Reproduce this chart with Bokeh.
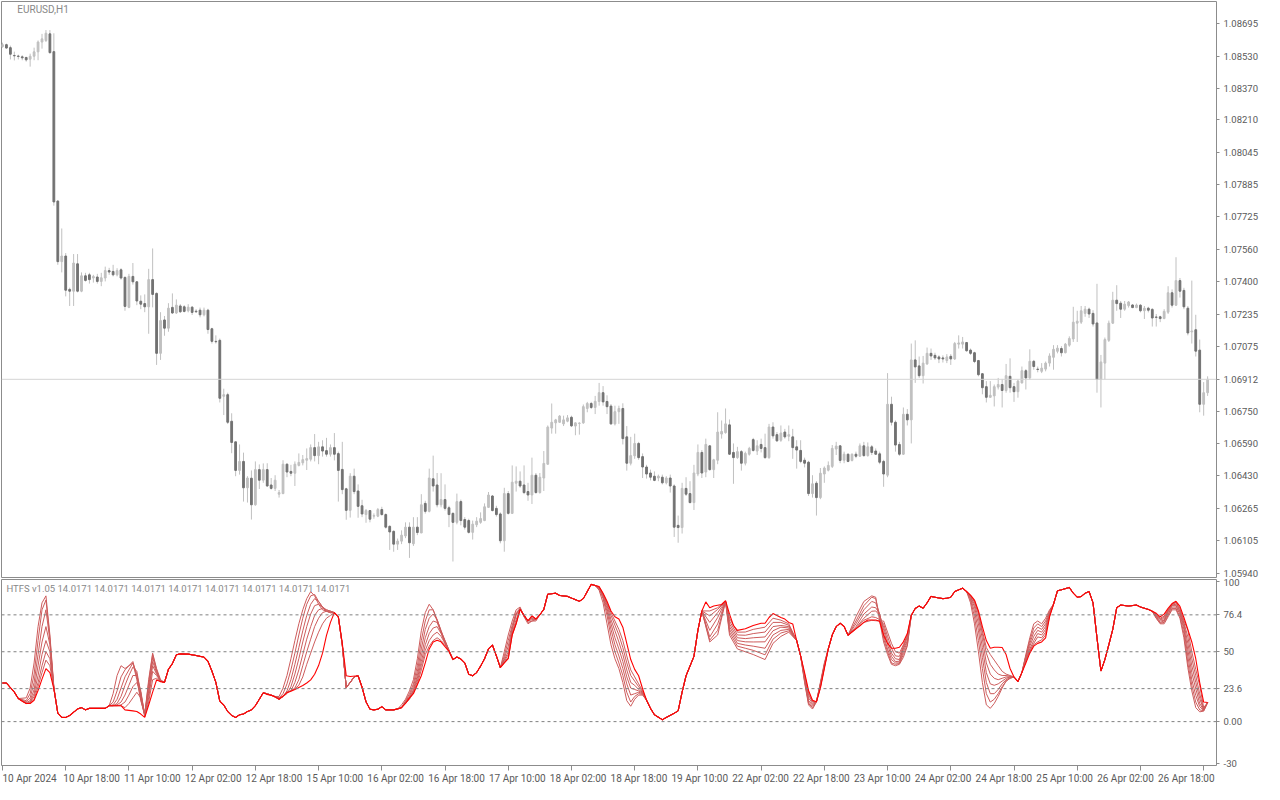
from bokeh.plotting import figure
from bokeh.layouts import column
from bokeh.models import FixedTicker, Range1d, Span, Label, ColumnDataSource, PrintfTickFormatter
from bokeh.core.properties import value
from bokeh.embed import file_html
from bokeh.resources import INLINE

# ---------------- EURUSD H1 candles (bar index 0 = 10 Apr 2024 02:00) ----------------
OPEN = [1.08577,1.08587,1.08572,1.08533,1.08530,1.08526,1.08523,1.08514,1.08529,1.08551,
1.08600,1.08608,1.08641,1.08552,1.07804,1.07501,1.07529,1.07362,1.07353,1.07490,
1.07353,1.07430,1.07435,1.07419,1.07424,1.07402,1.07419,1.07456,1.07452,1.07435,
1.07460,1.07422,1.07272,1.07427,1.07400,1.07303,1.07291,1.07275,1.07411,1.07342,
1.07042,1.07209,1.07168,1.07272,1.07244,1.07279,1.07275,1.07255,1.07273,1.07253,
1.07258,1.07235,1.07258,1.07165,1.07102,1.07107,1.06827,1.06835,1.06702,1.06599,
1.06456,1.06501,1.06369,1.06417,1.06284,1.06460,1.06407,1.06460,1.06383,1.06366,
1.06337,1.06340,1.06487,1.06451,1.06442,1.06481,1.06494,1.06507,1.06512,1.06570,
1.06530,1.06574,1.06555,1.06537,1.06570,1.06540,1.06461,1.06364,1.06256,1.06427,
1.06353,1.06279,1.06235,1.06255,1.06227,1.06227,1.06260,1.06235,1.06176,1.06151,
1.06087,1.06102,1.06128,1.06172,1.06089,1.06172,1.06143,1.06291,1.06251,1.06414,
1.06383,1.06284,1.06310,1.06269,1.06241,1.06196,1.06300,1.06210,1.06205,1.06146,
1.06184,1.06196,1.06205,1.06271,1.06328,1.06266,1.06238,1.06104,1.06340,1.06241,
1.06392,1.06402,1.06383,1.06350,1.06333,1.06432,1.06345,1.06418,1.06487,1.06668,
1.06694,1.06697,1.06689,1.06702,1.06722,1.06678,1.06691,1.06694,1.06766,1.06791,
1.06771,1.06801,1.06845,1.06801,1.06778,1.06689,1.06750,1.06766,1.06624,1.06492,
1.06529,1.06591,1.06525,1.06473,1.06443,1.06427,1.06418,1.06422,1.06394,1.06418,
1.06378,1.06181,1.06170,1.06366,1.06340,1.06295,1.06438,1.06546,1.06448,1.06579,
1.06460,1.06507,1.06638,1.06645,1.06684,1.06546,1.06520,1.06550,1.06492,1.06537,
1.06610,1.06553,1.06586,1.06570,1.06520,1.06673,1.06635,1.06607,1.06648,1.06627,
1.06624,1.06574,1.06556,1.06507,1.06497,1.06340,1.06392,1.06320,1.06438,1.06457,
1.06476,1.06563,1.06579,1.06507,1.06537,1.06506,1.06537,1.06527,1.06579,1.06530,
1.06574,1.06553,1.06539,1.06501,1.06432,1.06787,1.06697,1.06586,1.06537,1.06737,
1.06709,1.07009,1.06979,1.06930,1.06989,1.07042,1.07032,1.07024,1.07019,1.07006,
1.07027,1.07014,1.07088,1.07088,1.07096,1.07058,1.07045,1.07006,1.06940,1.06875,
1.06822,1.06829,1.06873,1.06886,1.06856,1.06927,1.06875,1.06850,1.06894,1.06955,
1.06919,1.07002,1.06963,1.06952,1.06963,1.06993,1.07022,1.07052,1.07066,1.07045,
1.07083,1.07114,1.07193,1.07198,1.07242,1.07263,1.07242,1.07194,1.06911,1.06993,
1.07107,1.07193,1.07308,1.07293,1.07263,1.07281,1.07284,1.07271,1.07283,1.07255,
1.07268,1.07262,1.07224,1.07225,1.07216,1.07248,1.07345,1.07283,1.07406,1.07357,
1.07268,1.07149,1.07160,1.07058,1.06787,1.06845]
HIGH = [1.08597,1.08592,1.08582,1.08552,1.08537,1.08534,1.08526,1.08542,1.08572,1.08608,
1.08641,1.08660,1.08660,1.08644,1.07809,1.07667,1.07544,1.07371,1.07539,1.07539,
1.07447,1.07445,1.07445,1.07435,1.07440,1.07445,1.07476,1.07470,1.07485,1.07468,
1.07468,1.07427,1.07440,1.07494,1.07402,1.07332,1.07337,1.07465,1.07567,1.07347,
1.07248,1.07229,1.07293,1.07342,1.07312,1.07288,1.07283,1.07288,1.07279,1.07263,
1.07271,1.07271,1.07265,1.07170,1.07132,1.07116,1.06865,1.06845,1.06742,1.06599,
1.06586,1.06545,1.06427,1.06456,1.06501,1.06486,1.06491,1.06492,1.06418,1.06432,
1.06358,1.06507,1.06492,1.06484,1.06501,1.06541,1.06533,1.06566,1.06586,1.06638,
1.06599,1.06607,1.06619,1.06586,1.06643,1.06550,1.06599,1.06369,1.06442,1.06465,
1.06386,1.06309,1.06263,1.06258,1.06241,1.06268,1.06274,1.06241,1.06181,1.06156,
1.06115,1.06156,1.06196,1.06196,1.06222,1.06222,1.06337,1.06304,1.06465,1.06530,
1.06443,1.06442,1.06386,1.06279,1.06246,1.06340,1.06310,1.06222,1.06214,1.06205,
1.06222,1.06246,1.06291,1.06348,1.06333,1.06279,1.06246,1.06369,1.06353,1.06481,
1.06476,1.06451,1.06481,1.06394,1.06520,1.06443,1.06443,1.06553,1.06681,1.06791,
1.06714,1.06733,1.06730,1.06733,1.06730,1.06697,1.06697,1.06786,1.06799,1.06799,
1.06829,1.06894,1.06878,1.06832,1.06788,1.06780,1.06780,1.06792,1.06678,1.06624,
1.06640,1.06599,1.06541,1.06484,1.06460,1.06451,1.06435,1.06435,1.06427,1.06435,
1.06386,1.06230,1.06394,1.06422,1.06402,1.06484,1.06586,1.06558,1.06615,1.06583,
1.06514,1.06747,1.06706,1.06766,1.06711,1.06591,1.06574,1.06558,1.06550,1.06574,
1.06619,1.06607,1.06615,1.06640,1.06689,1.06697,1.06648,1.06681,1.06664,1.06681,
1.06664,1.06607,1.06607,1.06520,1.06504,1.06432,1.06402,1.06468,1.06476,1.06501,
1.06583,1.06599,1.06583,1.06550,1.06541,1.06541,1.06550,1.06591,1.06599,1.06596,
1.06583,1.06566,1.06550,1.06509,1.06943,1.06825,1.06706,1.06599,1.06771,1.06763,
1.07091,1.07107,1.07026,1.07029,1.07071,1.07066,1.07045,1.07032,1.07032,1.07038,
1.07038,1.07099,1.07132,1.07124,1.07099,1.07066,1.07050,1.07009,1.06943,1.06903,
1.06903,1.06886,1.06919,1.06914,1.06989,1.07017,1.06894,1.06911,1.06976,1.06963,
1.07062,1.07009,1.06976,1.06993,1.07001,1.07042,1.07083,1.07083,1.07078,1.07094,
1.07127,1.07275,1.07255,1.07279,1.07279,1.07271,1.07258,1.07390,1.07034,1.07121,
1.07206,1.07350,1.07383,1.07304,1.07304,1.07304,1.07288,1.07291,1.07288,1.07279,
1.07275,1.07268,1.07239,1.07230,1.07263,1.07378,1.07362,1.07523,1.07419,1.07370,
1.07279,1.07406,1.07235,1.07111,1.06898,1.06927]
LOW = [1.08572,1.08567,1.08513,1.08508,1.08513,1.08509,1.08502,1.08477,1.08509,1.08509,
1.08567,1.08600,1.08542,1.07781,1.07485,1.07447,1.07327,1.07279,1.07279,1.07347,
1.07348,1.07401,1.07391,1.07396,1.07391,1.07378,1.07402,1.07435,1.07427,1.07427,
1.07411,1.07255,1.07268,1.07386,1.07283,1.07263,1.07248,1.07140,1.07272,1.06984,
1.07009,1.07130,1.07150,1.07239,1.07239,1.07244,1.07247,1.07247,1.07234,1.07244,
1.07222,1.07227,1.07140,1.07091,1.07091,1.06796,1.06733,1.06688,1.06542,1.06427,
1.06435,1.06300,1.06295,1.06210,1.06279,1.06363,1.06394,1.06374,1.06360,1.06353,
1.06320,1.06337,1.06422,1.06427,1.06378,1.06476,1.06481,1.06458,1.06501,1.06501,
1.06487,1.06525,1.06525,1.06525,1.06506,1.06300,1.06337,1.06209,1.06220,1.06337,
1.06219,1.06222,1.06194,1.06196,1.06214,1.06222,1.06230,1.06165,1.06058,1.06049,
1.06058,1.06087,1.06117,1.06018,1.06078,1.06132,1.06142,1.06240,1.06246,1.06350,
1.06271,1.06271,1.06255,1.06172,1.06000,1.06186,1.06181,1.06160,1.06140,1.06110,
1.06172,1.06189,1.06202,1.06268,1.06251,1.06225,1.06091,1.06049,1.06235,1.06238,
1.06350,1.06369,1.06337,1.06304,1.06288,1.06340,1.06340,1.06353,1.06484,1.06640,
1.06640,1.06694,1.06678,1.06697,1.06673,1.06632,1.06635,1.06689,1.06747,1.06763,
1.06738,1.06780,1.06780,1.06738,1.06684,1.06681,1.06689,1.06586,1.06455,1.06481,
1.06514,1.06509,1.06418,1.06415,1.06406,1.06402,1.06402,1.06386,1.06386,1.06345,
1.06123,1.06094,1.06140,1.06328,1.06291,1.06258,1.06427,1.06418,1.06422,1.06455,
1.06418,1.06487,1.06615,1.06640,1.06533,1.06389,1.06514,1.06455,1.06481,1.06530,
1.06550,1.06533,1.06546,1.06514,1.06514,1.06615,1.06599,1.06599,1.06615,1.06602,
1.06514,1.06465,1.06492,1.06471,1.06328,1.06320,1.06230,1.06312,1.06394,1.06451,
1.06468,1.06533,1.06492,1.06492,1.06497,1.06501,1.06517,1.06525,1.06525,1.06525,
1.06533,1.06533,1.06487,1.06374,1.06422,1.06681,1.06550,1.06529,1.06533,1.06681,
1.06591,1.06894,1.06919,1.06891,1.06984,1.07009,1.07009,1.06993,1.06996,1.06993,
1.06984,1.07009,1.07066,1.07066,1.07050,1.07034,1.06993,1.06927,1.06837,1.06796,
1.06820,1.06776,1.06861,1.06771,1.06845,1.06845,1.06799,1.06820,1.06891,1.06861,
1.06911,1.06960,1.06947,1.06943,1.06952,1.06976,1.06960,1.07042,1.07026,1.07042,
1.07075,1.07099,1.07099,1.07189,1.07225,1.07219,1.07176,1.06845,1.06771,1.06911,
1.07099,1.07189,1.07255,1.07219,1.07255,1.07271,1.07268,1.07268,1.07247,1.07214,
1.07247,1.07176,1.07176,1.07198,1.07213,1.07239,1.07271,1.07279,1.07321,1.07263,
1.07132,1.07091,1.07026,1.06747,1.06730,1.06829]
CLOSE = [1.08587,1.08570,1.08539,1.08531,1.08528,1.08521,1.08511,1.08529,1.08551,1.08600,
1.08616,1.08644,1.08547,1.07800,1.07501,1.07529,1.07358,1.07353,1.07494,1.07353,
1.07430,1.07407,1.07411,1.07427,1.07402,1.07420,1.07456,1.07449,1.07435,1.07456,
1.07419,1.07277,1.07427,1.07400,1.07304,1.07288,1.07275,1.07411,1.07337,1.07042,
1.07206,1.07168,1.07268,1.07244,1.07283,1.07250,1.07252,1.07273,1.07247,1.07250,
1.07235,1.07258,1.07161,1.07102,1.07100,1.06817,1.06835,1.06697,1.06596,1.06456,
1.06501,1.06369,1.06418,1.06284,1.06460,1.06407,1.06460,1.06378,1.06366,1.06407,
1.06345,1.06487,1.06448,1.06442,1.06487,1.06496,1.06510,1.06515,1.06570,1.06530,
1.06574,1.06553,1.06537,1.06570,1.06537,1.06456,1.06360,1.06256,1.06427,1.06350,
1.06276,1.06238,1.06255,1.06212,1.06230,1.06260,1.06235,1.06172,1.06148,1.06087,
1.06102,1.06132,1.06172,1.06094,1.06172,1.06145,1.06284,1.06251,1.06418,1.06378,
1.06284,1.06310,1.06266,1.06235,1.06196,1.06300,1.06205,1.06172,1.06146,1.06187,
1.06202,1.06215,1.06274,1.06333,1.06255,1.06235,1.06104,1.06340,1.06241,1.06397,
1.06402,1.06378,1.06345,1.06333,1.06432,1.06345,1.06422,1.06491,1.06673,1.06697,
1.06709,1.06728,1.06709,1.06719,1.06679,1.06694,1.06693,1.06775,1.06791,1.06771,
1.06802,1.06845,1.06799,1.06775,1.06689,1.06750,1.06766,1.06615,1.06492,1.06530,
1.06591,1.06520,1.06473,1.06438,1.06422,1.06406,1.06427,1.06394,1.06418,1.06378,
1.06172,1.06170,1.06366,1.06337,1.06295,1.06443,1.06546,1.06443,1.06586,1.06460,
1.06509,1.06648,1.06651,1.06689,1.06537,1.06520,1.06550,1.06492,1.06541,1.06566,
1.06556,1.06579,1.06566,1.06520,1.06673,1.06629,1.06604,1.06643,1.06624,1.06635,
1.06570,1.06558,1.06501,1.06492,1.06340,1.06389,1.06320,1.06442,1.06468,1.06481,
1.06566,1.06578,1.06506,1.06537,1.06501,1.06537,1.06527,1.06579,1.06530,1.06574,
1.06546,1.06537,1.06497,1.06438,1.06787,1.06697,1.06583,1.06537,1.06737,1.06709,
1.07009,1.06974,1.06930,1.06993,1.07042,1.07029,1.07019,1.07014,1.07014,1.07024,
1.07014,1.07091,1.07094,1.07099,1.07055,1.07042,1.07001,1.06935,1.06870,1.06822,
1.06832,1.06875,1.06886,1.06856,1.06930,1.06870,1.06850,1.06903,1.06955,1.06919,
1.07002,1.06976,1.06961,1.06968,1.06993,1.07029,1.07062,1.07068,1.07045,1.07088,
1.07116,1.07198,1.07203,1.07255,1.07263,1.07239,1.07189,1.06911,1.06999,1.07111,
1.07193,1.07308,1.07291,1.07263,1.07288,1.07299,1.07271,1.07284,1.07255,1.07268,
1.07258,1.07219,1.07222,1.07216,1.07252,1.07345,1.07283,1.07406,1.07353,1.07275,
1.07144,1.07154,1.07053,1.06787,1.06845,1.06912]

PRICE_TICKS = [1.08695, 1.08530, 1.08370, 1.08210, 1.08045, 1.07885, 1.07725, 1.07560,
               1.07400, 1.07235, 1.07075, 1.06750, 1.06590, 1.06430, 1.06265, 1.06105, 1.05940]
CURRENT_PRICE = 1.06912

X_TICK_BARS = [0, 16, 32, 48, 64, 80, 96, 112, 128, 144, 160, 176, 192, 208, 224, 240, 256, 272, 288, 304]
X_TICK_LABELS = ["10 Apr 2024", "10 Apr 18:00", "11 Apr 10:00", "12 Apr 02:00", "12 Apr 18:00",
                 "15 Apr 10:00", "16 Apr 02:00", "16 Apr 18:00", "17 Apr 10:00", "18 Apr 02:00",
                 "18 Apr 18:00", "19 Apr 10:00", "22 Apr 02:00", "22 Apr 18:00", "23 Apr 10:00",
                 "24 Apr 02:00", "24 Apr 18:00", "25 Apr 10:00", "26 Apr 02:00", "26 Apr 18:00"]

# ---------------- HTFS indicator ----------------
RED_BARS = [0,1,3,4,5,6,7,8,9,10,11,12,13,14,15,16,17,18,19,20,21,22,26,27,30,31,33,34,35,36,37,38,39,40,41,
42,43,44,45,47,49,50,51,52,53,54,55,56,57,58,59,60,61,62,63,64,65,66,67,68,69,70,71,72,73,74,75,76,77,78,79,
80,81,82,83,84,85,86,87,88,90,91,92,93,94,95,96,97,99,100,101,102,103,104,106,107,108,109,110,111,112,113,
114,115,116,117,118,119,120,121,122,123,124,125,126,127,128,129,130,131,132,133,134,135,136,137,138,140,141,
143,144,146,147,148,149,150,151,152,153,154,155,156,157,158,159,160,161,162,163,164,165,167,168,170,171,172,
173,175,176,177,178,179,180,182,183,184,185,186,188,190,192,193,194,195,197,198,199,200,201,202,203,204,205,
206,207,208,209,210,211,212,213,214,215,216,217,218,219,221,222,223,224,225,226,227,228,229,230,231,232,233,
234,235,236,237,238,239,240,241,243,244,245,246,247,248,249,250,251,252,253,254,255,256,257,258,259,260,261,
262,263,264,265,266,267,268,270,271,272,273,274,275,276,277,278,279,280,281,282,283,285,287,288,290,291,292,
293,294,295,296,297,298,299,300,301,302,303,304,305]
RED_VALS = [27.6,27.6,21.1,16.5,14.6,13.0,13.0,15.3,22.3,30.4,37.9,35.0,23.5,6.0,3.0,3.0,4.4,6.7,9.1,10.0,8.4,
9.5,9.5,11.4,11.4,8.4,7.7,7.2,5.4,3.0,11.9,21.1,29.9,28.6,28.1,
37.4,41.5,47.8,48.5,48.3,47.3,46.7,46.2,43.2,36.2,28.1,14.6,11.9,7.2,4.4,3.0,4.9,5.4,7.2,8.4,11.4,16.0,20.7,
19.5,18.8,17.7,16.0,18.3,20.7,21.8,23.0,24.4,25.8,27.6,29.9,33.9,
40.1,49.0,61.7,71.0,78.0,75.0,56.0,32.8,32.3,32.8,24.6,14.2,8.9,8.4,8.9,10.7,8.4,8.4,9.1,10.0,13.0,17.0,20.0,
32.8,42.0,52.0,57.0,58.3,57.1,53.6,50.2,
44.4,46.2,44.8,42.0,33.9,32.8,35.1,39.7,45.0,52.0,54.8,47.0,38.6,42.0,45.0,62.0,70.0,80.3,76.0,72.2,75.7,73.4,
76.5,80.3,91.2,91.9,90.3,
89.6,88.4,86.1,88.0,93.1,98.2,97.4,96.6,91.9,86.1,79.2,75.0,73.4,67.6,56.0,44.4,37.4,32.8,23.5,15.3,9.5,4.9,
1.4,3.0,6.0,7.7,21.1,
32.8,46.7,65.3,79.2,85.7,81.5,82.7,83.8,86.6,76.9,68.8,65.3,66.4,68.8,70.4,70.4,74.5,77.3,74.5,73.4,71.0,69.9,
58.0,47.0,35.0,22.3,15.3,
14.2,24.0,38.0,52.0,62.0,68.0,70.4,68.1,61.8,64.1,66.4,68.5,71.0,72.7,72.7,71.8,62.0,56.0,52.5,52.5,53.2,57.1,
63.0,76.0,81.0,82.7,81.1,
85.0,89.6,89.0,88.5,88.0,88.3,89.0,93.1,95.5,93.1,90.5,87.0,79.2,68.0,58.0,52.5,53.2,53.2,53.0,48.0,38.0,32.0,
28.6,35.1,42.0,49.0,54.0,
56.0,57.0,60.0,75.0,84.0,93.6,94.3,96.0,91.9,89.0,89.5,91.9,93.1,85.0,60.0,36.2,44.4,55.0,66.0,81.5,83.4,82.7,
83.4,82.0,80.3,79.0,77.5,
75.0,76.9,81.0,84.5,86.1,82.5,74.5,66.0,57.0,45.0,28.0,14.0,13.7]

# seven companion lines; where they are not listed they run on the red line
R1_BARS = [4, 6, 7, 8, 9, 10, 11, 12, 13, 14]
R1_LINES = [[16.5, 17, 24, 42, 68, 85, 90, 62, 25, 6],
            [16.5, 15, 20, 34, 58, 80, 87, 60, 24, 6],
            [16.5, 14, 17, 28, 48, 68, 80, 58, 24, 6],
            [16.5, 13.5, 15, 23, 40, 57, 68, 55, 24, 6],
            [16.5, 13, 14, 20, 33, 48, 58, 50, 24, 6],
            [16.5, 13, 13.5, 18, 28, 40, 50, 45, 24, 6],
            [16.5, 13, 13, 16, 25, 35, 44, 40, 24, 6]]
R2_BARS = [27, 28, 29, 30, 31, 32, 33, 34, 35, 36, 37, 38, 39, 40, 41]
R2_LINES = [[11.4, 20, 33, 40, 38, 40, 42, 30, 15, 5, 30, 49, 38, 30, 28.1],
            [11.4, 14, 22, 32, 37, 40, 43, 32, 16, 5, 28, 48, 37, 29, 28.1],
            [11.4, 12, 16, 24, 32, 37, 42, 34, 18, 5, 25, 46, 36, 29, 28.1],
            [11.4, 11.4, 13, 18, 26, 33, 39, 36, 20, 5, 22, 43, 35, 29, 28.1],
            [11.4, 11.4, 12, 14, 19, 26, 33, 33, 22, 5, 20, 40, 34, 29, 28.1],
            [11.4, 11.4, 11.4, 12, 14, 19, 25, 28, 21, 4, 17, 36, 33, 29, 28.1],
            [11.4, 11.4, 11.4, 11.4, 10, 13, 17, 21, 17, 3.5, 14, 30, 31, 29, 28.1]]
R3_BARS = [66, 68, 69, 70, 71, 72, 73, 74, 75, 76, 77, 78, 79, 80, 81, 82, 83, 84, 85, 86, 87, 88, 89, 90]
R3_LINES = [[20.7, 19, 18, 18, 24, 33, 45, 58, 70, 80, 88, 93, 90, 84, 80, 79, 78, 78, 75, 55, 24.4, 28, 32, 32.8],
            [20.7, 19, 18, 17, 20, 27, 37, 49, 62, 74, 84, 90, 91, 86, 82, 79, 78, 78, 75, 55, 24.4, 28, 32, 32.8],
            [20.7, 19, 17.7, 17, 18, 22, 30, 41, 53, 65, 76, 84, 88, 86, 82, 79, 78, 78, 75, 55, 24.4, 28, 32, 32.8],
            [20.7, 19, 17.7, 16, 18, 20, 25, 34, 45, 57, 68, 77, 83, 84, 82, 80, 79, 78, 75, 55, 24.4, 28, 32, 32.8],
            [20.7, 19, 17.7, 16, 18, 21, 22, 28, 37, 48, 59, 68, 76, 80, 81, 80, 79, 78, 75, 55, 24.4, 28, 32, 32.8],
            [20.7, 19, 17.7, 16, 18, 21, 22, 24, 30, 40, 50, 59, 68, 74, 78, 79, 79, 78, 75, 55, 24.4, 28, 32, 32.8],
            [20.7, 19, 17.7, 16, 18, 21, 22, 23.5, 26, 32, 41, 49, 57, 64, 70, 74, 76, 78, 75, 55, 24.4, 28, 32, 32.8]]
R4_BARS = [100, 101, 102, 103, 104, 105, 106, 107, 108, 109, 110, 111, 112, 113, 114]
R4_LINES = [[9.1, 12, 16, 22, 30, 45, 65, 78, 84, 80, 72, 64, 56, 50, 44.4],
            [9.1, 10, 15, 20, 27, 40, 58, 72, 80, 80, 73, 65, 57, 51, 44.4],
            [9.1, 10, 14.5, 18.5, 25, 36, 52, 66, 74, 77, 73, 65, 58, 51, 44.4],
            [9.1, 10, 14, 17.5, 23, 33, 47, 60, 68, 72, 71, 64, 58, 51, 44.4],
            [9.1, 10, 13.5, 17, 22, 31, 43, 55, 63, 67, 68, 63, 57, 51, 44.4],
            [9.1, 10, 13.2, 16.5, 21, 29, 40, 51, 58, 62, 64, 61, 56, 51, 44.4],
            [9.1, 10, 13, 16, 20.5, 27, 37, 48, 54, 58, 60, 58, 55, 51, 44.4]]
R5_BARS = [126, 127, 128, 129, 130, 131, 132, 133, 134, 135, 136]
R5_LINES = [[38.6, 50, 62, 72, 80, 82, 75, 70, 72, 73, 76.5],
            [38.6, 47, 58, 69, 78, 81, 76, 71, 72, 72, 76.5],
            [38.6, 45, 54, 67, 77, 81, 76, 72, 73, 73, 76.5],
            [38.6, 44, 50, 66, 76, 81, 75, 72, 74, 73, 76.5],
            [38.6, 43, 48, 64, 73, 80.5, 76, 72, 75, 73, 76.5],
            [38.6, 42.5, 46, 63, 71, 80.5, 76, 72, 75.5, 73.4, 76.5],
            [38.6, 42, 45, 62, 70, 80.3, 76, 72.2, 75.7, 73.4, 76.5]]
R6_BARS = [150, 151, 152, 153, 154, 155, 156, 157, 158, 159, 160, 161, 162, 163]
R6_LINES = [[97.4, 94, 85, 70, 55, 45, 38, 28, 15, 11, 16, 19, 19, 15.3],
            [97.4, 95, 88, 76, 61, 50, 42, 33, 21, 14, 18, 20, 19.5, 15.3],
            [97.4, 95.5, 89, 79, 66, 55, 47, 38, 27, 19, 20, 21, 20, 15.3],
            [97.4, 96, 90, 81, 70, 60, 52, 43, 32, 24, 23, 22, 20.5, 15.3],
            [97.4, 96, 90.5, 83, 73, 65, 57, 48, 37, 28, 26, 23, 21, 15.3],
            [97.4, 96.3, 91, 84, 76, 69, 62, 53, 42, 33, 29, 25, 21.5, 15.3],
            [97.4, 96.5, 91.5, 85, 78, 72, 66, 58, 47, 37, 32, 27, 22, 15.3]]
R7_BARS = [177, 179, 181, 183, 184, 186, 188, 190, 193, 195, 197, 199, 201]
R7_LINES = [[79.2, 79.2, 81.5, 86, 74, 64, 64.1, 66, 67.6, 74, 72.6, 70, 58],
            [79.2, 75.7, 80.3, 86, 72, 62, 61.8, 63, 64.1, 71, 71, 69, 58],
            [79.2, 71, 78, 86, 70, 60, 59.4, 60, 60.6, 68, 68.8, 68, 58],
            [79.2, 65.3, 74.5, 86, 68, 58, 57.1, 57, 57.1, 65, 67.6, 67, 58],
            [79.2, 60.6, 69.9, 86, 66, 56, 54.8, 54, 52.5, 62, 65.3, 66, 58],
            [79.2, 58.3, 65.3, 86, 64, 54, 52.5, 51, 47.8, 59, 63.4, 65, 58],
            [79.2, 57, 62, 86, 62, 52, 50, 48, 44.4, 56, 61, 64, 58]]
R8_BARS = [202, 203, 204, 205, 206, 207, 208]
R8_LINES = [[47, 28, 12, 9, 14, 28, 42],
            [47, 29, 13, 10, 14.5, 27, 41],
            [47, 30, 14, 11, 14.5, 27, 40.5],
            [47, 31, 15, 12, 14.5, 26, 40],
            [47, 32, 17, 13, 14.5, 25.5, 39.5],
            [47, 33, 19, 14, 14.3, 25, 39],
            [47, 34, 20.5, 14.5, 14.2, 24.5, 38.5]]
R9_BARS = [214, 216, 218, 220, 221, 222, 223, 224, 225, 226, 227, 228, 229, 230]
R9_LINES = [[61.8, 75, 86, 90, 89, 72, 57, 48, 41, 40, 41, 46, 54, 76],
            [61.8, 72, 83, 89, 88, 75, 59.4, 50, 42, 41, 41.5, 48, 55, 76],
            [61.8, 70, 80, 86, 85, 77, 61.8, 52, 44.4, 42, 42, 50, 57, 76],
            [61.8, 68, 77, 82, 81.5, 77, 65.3, 55, 46.7, 43, 43.2, 52, 58, 76],
            [61.8, 67, 74, 79, 79.2, 76, 67.6, 58, 49, 45, 44.4, 53, 60, 76],
            [61.8, 66.5, 72.5, 75, 74.5, 73, 69.9, 61, 52.5, 47, 46.7, 54, 61, 76],
            [61.8, 66.4, 71, 72.5, 72.2, 72, 72, 64, 56, 50, 49, 55, 62, 76]]
R10_BARS = [244, 245, 246, 247, 248, 249, 250, 251, 252, 253, 254, 255, 256, 257]
R10_LINES = [[93.1, 85, 70, 50, 28, 12, 9.5, 13, 18, 24, 29, 31, 32, 28.6],
             [93.1, 87, 75, 58, 38, 20, 14, 16, 20, 25, 29, 31, 32, 28.6],
             [93.1, 88, 79, 65, 46, 28, 20, 20, 23, 27, 30, 31.5, 32, 28.6],
             [93.1, 89, 82, 70, 53, 35, 27, 26, 27, 29, 31, 32, 32, 28.6],
             [93.1, 89.5, 84, 74, 59, 42, 34, 31, 30, 31, 32, 32, 32, 28.6],
             [93.1, 90, 85.5, 77, 63, 49, 41, 37, 34, 33, 33, 32.5, 32, 28.6],
             [93.1, 90.3, 86.5, 78.5, 65, 53, 48, 44, 40, 36, 34, 33, 32, 28.6]]
R11_BARS = [258, 259, 260, 261, 262, 263, 264, 265, 266]
R11_LINES = [[35.1, 48, 60, 70, 72, 70, 74, 80, 84],
             [35.1, 47, 58, 67, 70, 68, 72, 79, 84],
             [35.1, 46.7, 56, 64, 67.6, 66, 70, 78, 84],
             [35.1, 45.5, 54, 61, 65.3, 64, 68, 77, 84],
             [35.1, 44.4, 52, 58, 63, 62, 66, 77, 84],
             [35.1, 44, 51, 56, 60.6, 60, 64, 76, 84],
             [35.1, 43.2, 50, 55, 57.1, 58.5, 62, 75.5, 84]]
R12_BARS = [291, 292, 293, 294, 295, 296, 297, 298, 299, 300, 301, 302, 303, 304, 305]
R12_LINES = [[79, 74, 70, 70, 75, 80, 80, 74, 60, 38.6, 22, 10, 7, 7.5, 13.7],
             [79, 74, 70.5, 71, 76, 81, 81, 75, 63, 42, 26, 14, 8.4, 7.8, 13.7],
             [79, 75, 71, 72, 77, 82, 82, 77, 66, 46.7, 30, 18.8, 10.7, 8, 13.7],
             [79, 75.5, 72, 72.5, 78, 83, 83, 78, 68, 51.3, 35, 23.5, 13, 8.2, 13.7],
             [79, 76, 73, 73.5, 79, 83.5, 84, 79, 70, 56, 40, 28.1, 16.5, 8.4, 13.7],
             [79, 76.5, 73.5, 74.5, 79.5, 84, 85, 80, 71, 60.6, 45, 32.8, 19.9, 9, 13.7],
             [79, 77, 74, 75.5, 80, 84.2, 85.5, 81, 72.5, 65.3, 50, 37.4, 25.8, 10, 13.7]]
LEVELS = [76.4, 50, 23.6, 0]
IND_TICKS = [100, 76.4, 50, 23.6, 0, -30]
IND_TITLE = "HTFS v1.05 " + " ".join(["14.0171"] * 8)

FAN_REGIONS = [(R1_BARS, R1_LINES), (R2_BARS, R2_LINES), (R3_BARS, R3_LINES), (R4_BARS, R4_LINES),
               (R5_BARS, R5_LINES), (R6_BARS, R6_LINES), (R7_BARS, R7_LINES), (R8_BARS, R8_LINES),
               (R9_BARS, R9_LINES), (R10_BARS, R10_LINES), (R11_BARS, R11_LINES), (R12_BARS, R12_LINES)]


def companion(k):
    pts = dict(zip(RED_BARS, RED_VALS))
    for bars, lines in FAN_REGIONS:
        lo, hi = bars[0], bars[-1]
        pts = {b: v for b, v in pts.items() if not (lo <= b <= hi)}
        pts.update(zip(bars, lines[k]))
    xs = sorted(pts)
    return xs, [pts[x] for x in xs]


FONT = "Roboto"
AX_COL = "#5a5a5a"
TITLE_COL = "#888888"
BORDER = "#8c8c8c"
BULL = "#c0c0c0"
BEAR = "#727272"

W = 1264
RIGHT = 48
LEFT = 1
X0, X1 = -0.25, 307.25
xr = Range1d(X0, X1)
H1, H2, H3 = 578, 193, 13

# ---------------- price pane ----------------
n = len(CLOSE)
idx = list(range(n))
src = ColumnDataSource(dict(
    x=idx, o=OPEN, h=HIGH, l=LOW, c=CLOSE,
    col=[BULL if CLOSE[i] >= OPEN[i] else BEAR for i in idx]))

p1 = figure(width=W, height=H1, x_range=xr, y_range=Range1d(1.05920, 1.08803),
            output_backend="svg", toolbar_location=None, y_axis_location="right",
            min_border_left=LEFT, min_border_right=RIGHT, min_border_top=1, min_border_bottom=1)
p1.xaxis.visible = False
p1.grid.visible = False
p1.outline_line_color = BORDER
ya = p1.yaxis[0]
ya.ticker = FixedTicker(ticks=PRICE_TICKS + [CURRENT_PRICE])
ya.formatter = PrintfTickFormatter(format="%.5f")
ya.axis_line_color = None
ya.major_tick_line_color = BORDER
ya.major_tick_out = 3
ya.major_tick_in = 0
ya.minor_tick_line_color = None
ya.major_label_standoff = 4
ya.major_label_text_font = FONT
ya.major_label_text_font_size = "9.5px"
ya.major_label_text_color = AX_COL

p1.add_layout(Span(location=CURRENT_PRICE, dimension="width", line_color="#d4d4d4", line_width=1))
p1.segment(x0="x", y0="l", x1="x", y1="h", source=src, line_color=BULL, line_width=1)
p1.vbar(x="x", bottom="o", top="c", width=0.45, source=src, fill_color="col", line_color="col", line_width=1)

p1.add_layout(Label(x=3.75, y=1.08765, text="EURUSD,H1", text_font=FONT, text_font_size="10px",
                    text_color=TITLE_COL, text_baseline="middle"))

# ---------------- indicator pane ----------------
p2 = figure(width=W, height=H2, x_range=xr, y_range=Range1d(-31.4, 101.7),
            output_backend="svg", toolbar_location=None, y_axis_location="right",
            min_border_left=LEFT, min_border_right=RIGHT, min_border_top=1, min_border_bottom=6)
p2.grid.visible = False
p2.outline_line_color = BORDER
ya2 = p2.yaxis[0]
ya2.ticker = FixedTicker(ticks=IND_TICKS)
ya2.major_label_overrides = {100: "100", 76.4: "76.4", 50: "50", 23.6: "23.6", 0: "0.00", -30: "-30"}
ya2.axis_line_color = None
ya2.major_tick_line_color = BORDER
ya2.major_tick_out = 3
ya2.major_tick_in = 0
ya2.minor_tick_line_color = None
ya2.major_label_standoff = 4
ya2.major_label_text_font = FONT
ya2.major_label_text_font_size = "9.5px"
ya2.major_label_text_color = AX_COL

xa = p2.xaxis[0]
xa.ticker = FixedTicker(ticks=X_TICK_BARS)
xa.major_label_overrides = {b: "" for b in X_TICK_BARS}
xa.axis_line_color = None
xa.major_tick_line_color = BORDER
xa.major_tick_out = 5
xa.major_tick_in = 0
xa.minor_tick_line_color = None
xa.major_label_standoff = 0
xa.major_label_text_font_size = "1px"

for lv in LEVELS:
    p2.add_layout(Span(location=lv, dimension="width", line_color="#808080", line_dash="3 3", line_width=1))

for k in range(7):
    xs, ys = companion(k)
    p2.line(xs, ys, line_color="#cd5c5c", line_width=1)
p2.line(RED_BARS, RED_VALS, line_color="#ff0000", line_width=1.1)

p2.add_layout(Label(x=1.0, y=95.5, text=IND_TITLE, text_font=FONT, text_font_size="9.5px",
                    text_color=TITLE_COL, text_baseline="middle"))

# ---------------- time labels strip (same bar scale, running under the price axis too) ----------------
frame_w = W - LEFT - RIGHT
x3_end = X0 + (W - LEFT) * (X1 - X0) / frame_w
p3 = figure(width=W, height=H3, x_range=Range1d(X0, x3_end), y_range=Range1d(0, 1),
            output_backend="svg", toolbar_location=None, x_axis_location=None, y_axis_location=None,
            min_border_left=LEFT, min_border_right=0, min_border_top=0, min_border_bottom=0)
p3.grid.visible = False
p3.outline_line_color = None
p3.text(x=X_TICK_BARS, y=[0.5] * len(X_TICK_BARS), text=X_TICK_LABELS, text_align="left",
        text_baseline="middle", text_font=value(FONT), text_font_size=value("10px"), text_color=AX_COL)

layout = column(p1, p2, p3, spacing=0)
open("out.html", "w").write(file_html(layout, INLINE))
